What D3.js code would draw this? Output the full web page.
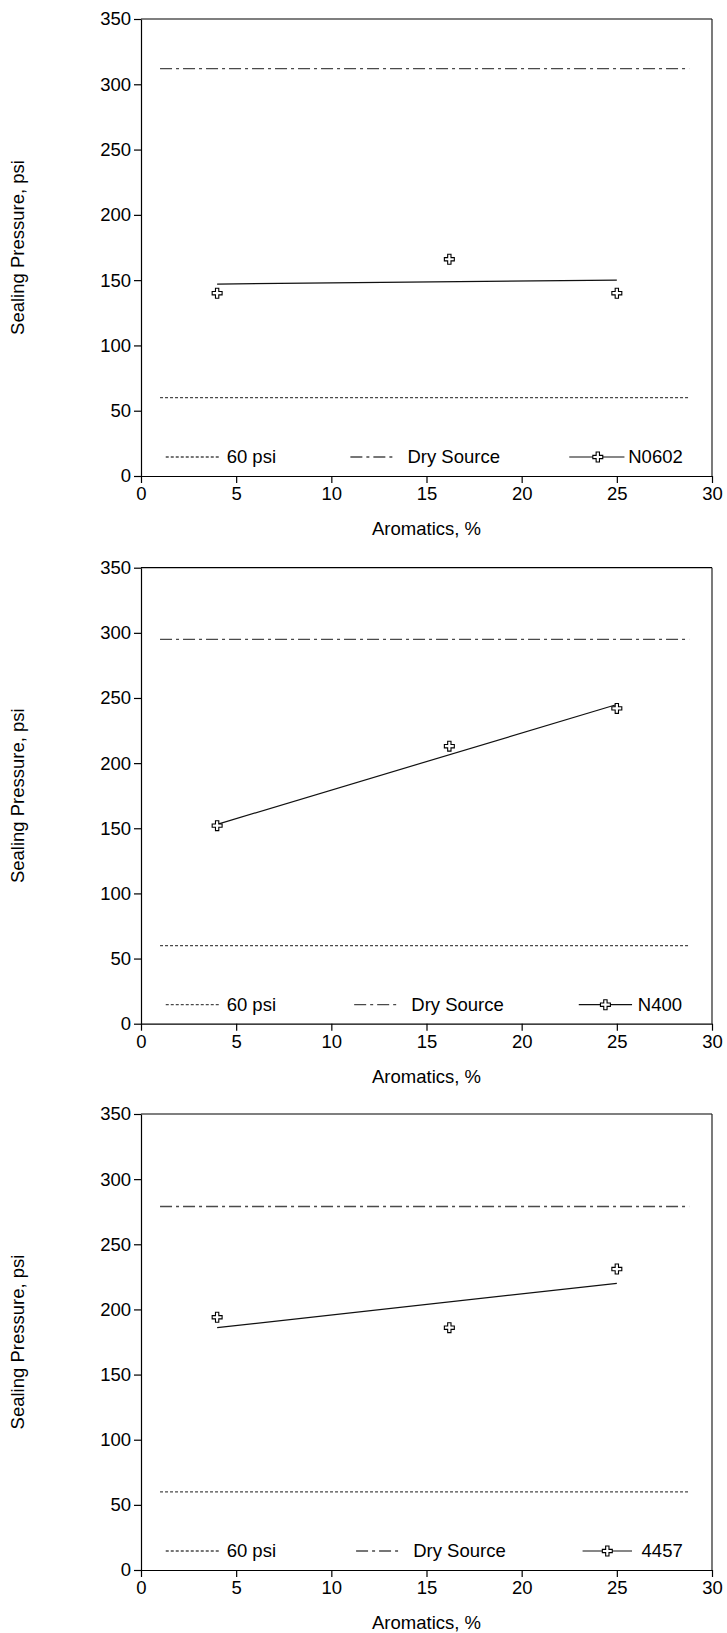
<!DOCTYPE html>
<html><head><meta charset="utf-8">
<script src="https://cdn.jsdelivr.net/npm/d3@7"></script>
<style>
body{margin:0;background:#fff;}
text{font-family:"Liberation Sans",Arial,sans-serif;}
</style></head>
<body>
<svg id="chart" width="727" height="1633"></svg>
<script>
// ---- data ----
const aromatics = [4, 16.2, 25];
const seriesNames = ["N0602", "N400", "4457"];
const n0602 = [140, 166, 140];
const n400 = [152, 213, 242];
const s4457 = [194, 186, 231];
const fitX = [4, 25];
const fitN0602 = [147, 150];
const fitN400 = [153, 245];
const fit4457 = [186, 220];
const drySource = [312, 295, 279];
const refPsi = 60;
const refX = [1, 28.8];
const xTicks = [0, 5, 10, 15, 20, 25, 30];
const yTicks = [0, 50, 100, 150, 200, 250, 300, 350];
const legendLabels = ["60 psi", "Dry Source"];

const panels = [
  {name: seriesNames[0], pts: n0602, fit: fitN0602, dry: drySource[0], top: 19, bottom: 476, leg: [[1.3,4.1,4.5],[11.0,13.3,14.0],[22.5,25.4,25.6,24.0]]},
  {name: seriesNames[1], pts: n400, fit: fitN400, dry: drySource[1], top: 567.7, bottom: 1023.7, leg: [[1.3,4.1,4.5],[11.2,13.5,14.2],[23.0,25.8,26.1,24.4]]},
  {name: seriesNames[2], pts: s4457, fit: fit4457, dry: drySource[2], top: 1114, bottom: 1570, leg: [[1.3,4.1,4.5],[11.3,13.7,14.3],[23.2,25.8,26.3,24.5]]}
];

const svg = d3.select("#chart");
const left = 141, right = 712;
const x = d3.scaleLinear().domain([0, 30]).range([left, right]);
const fs = 18.5;
const grayDash = "#4a4a4a";
const marker = d3.symbol().type(d3.symbolCross).size(55);

panels.forEach(p => {
  const y = d3.scaleLinear().domain([0, 350]).range([p.bottom, p.top]);
  const g = svg.append("g");

  // frame top & right
  g.append("line").attr("x1", left).attr("x2", right).attr("y1", y(350)).attr("y2", y(350)).attr("stroke", "#000").attr("stroke-width", 1.2);
  g.append("line").attr("x1", right).attr("x2", right).attr("y1", y(350)).attr("y2", y(0)).attr("stroke", "#222").attr("stroke-width", 1.2);

  // axes
  const xa = g.append("g").attr("transform", `translate(0,${y(0)})`)
    .call(d3.axisBottom(x).tickValues(xTicks).tickSize(7).tickSizeOuter(0).tickPadding(4));
  const ya = g.append("g").attr("transform", `translate(${left},0)`)
    .call(d3.axisLeft(y).tickValues(yTicks).tickSize(7).tickSizeOuter(0).tickPadding(3));
  [xa, ya].forEach(a => {
    a.selectAll("text").attr("font-size", fs).attr("fill", "#000").attr("font-family", "Liberation Sans, Arial, sans-serif");
    a.selectAll("line,path").attr("stroke", "#000").attr("stroke-width", 1.2);
  });

  // axis titles
  g.append("text").attr("x", (left + right) / 2).attr("y", y(0) + 59)
    .attr("text-anchor", "middle").attr("font-size", fs).text("Aromatics, %");
  g.append("text").attr("transform", `translate(24,${(p.top + p.bottom) / 2}) rotate(-90)`)
    .attr("text-anchor", "middle").attr("font-size", fs).text("Sealing Pressure, psi");

  // reference lines
  g.append("line").attr("x1", x(refX[0])).attr("x2", x(refX[1])).attr("y1", y(refPsi)).attr("y2", y(refPsi))
    .attr("stroke", grayDash).attr("stroke-width", 1.3).attr("stroke-dasharray", "3,2");
  g.append("line").attr("x1", x(refX[0])).attr("x2", x(refX[1])).attr("y1", y(p.dry)).attr("y2", y(p.dry))
    .attr("stroke", grayDash).attr("stroke-width", 1.3).attr("stroke-dasharray", "12,4,3,4");

  // fit line
  g.append("line").attr("x1", x(fitX[0])).attr("x2", x(fitX[1])).attr("y1", y(p.fit[0])).attr("y2", y(p.fit[1]))
    .attr("stroke", "#111").attr("stroke-width", 1.2);

  // points
  g.selectAll("path.pt").data(aromatics.map((a, i) => [a, p.pts[i]])).join("path")
    .attr("class", "pt").attr("d", marker)
    .attr("transform", d => `translate(${x(d[0])},${y(d[1])})`)
    .attr("fill", "#fff").attr("stroke", "#000").attr("stroke-width", 1.1);

  // legend
  const ly = y(0) - 19;
  const L = p.leg;
  g.append("line").attr("x1", x(L[0][0])).attr("x2", x(L[0][1])).attr("y1", ly).attr("y2", ly)
    .attr("stroke", grayDash).attr("stroke-width", 1.3).attr("stroke-dasharray", "3,2");
  g.append("text").attr("x", x(L[0][2])).attr("y", ly).attr("dy", "0.35em").attr("font-size", fs).text(legendLabels[0]);
  g.append("line").attr("x1", x(L[1][0])).attr("x2", x(L[1][1])).attr("y1", ly).attr("y2", ly)
    .attr("stroke", grayDash).attr("stroke-width", 1.3).attr("stroke-dasharray", "12,4,3,4");
  g.append("text").attr("x", x(L[1][2])).attr("y", ly).attr("dy", "0.35em").attr("font-size", fs).text(legendLabels[1]);
  g.append("line").attr("x1", x(L[2][0])).attr("x2", x(L[2][1])).attr("y1", ly).attr("y2", ly)
    .attr("stroke", "#111").attr("stroke-width", 1.2);
  g.append("path").attr("d", marker).attr("transform", `translate(${x(L[2][3])},${ly})`)
    .attr("fill", "#fff").attr("stroke", "#000").attr("stroke-width", 1.1);
  g.append("text").attr("x", x(L[2][2])).attr("y", ly).attr("dy", "0.35em").attr("font-size", fs).text(p.name);
});
</script>
</body></html>
